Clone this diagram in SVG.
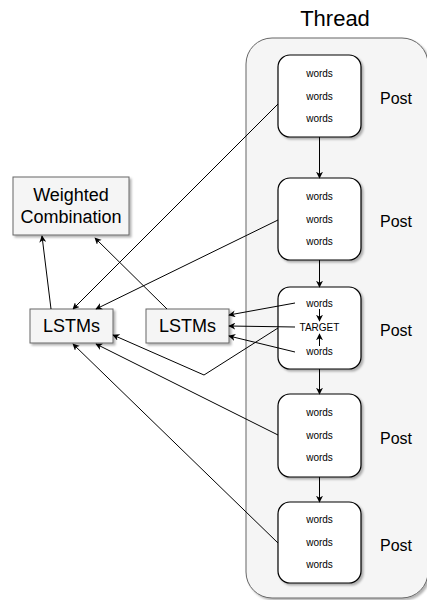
<svg xmlns="http://www.w3.org/2000/svg" width="427" height="600" viewBox="0 0 427 600">
  <style>
    text { font-family: "Liberation Sans", Arial, sans-serif; fill: #000; text-anchor: middle; }
    .title { font-size: 22px; }
    .label { font-size: 16px; }
    .word { font-size: 10px; }
    .big { font-size: 18px; }
    .post { fill: #ffffff; stroke: #000; stroke-width: 1.2; }
    .gray { fill: #f5f5f5; stroke: #666666; stroke-width: 1; }
    .edge { fill: none; stroke: #000; stroke-width: 1; }
  </style>
  <defs>
    <filter id="shadow" x="-10%" y="-10%" width="130%" height="130%">
      <feGaussianBlur in="SourceAlpha" stdDeviation="0.8"/>
      <feOffset dx="2" dy="2" result="b"/>
      <feFlood flood-color="#000" flood-opacity="0.3"/>
      <feComposite in2="b" operator="in"/>
      <feMerge><feMergeNode/><feMergeNode in="SourceGraphic"/></feMerge>
    </filter>
    <marker id="arrow" viewBox="0 0 10 10" refX="9" refY="5" markerWidth="7" markerHeight="7" markerUnits="userSpaceOnUse" orient="auto">
      <path d="M0,0 L10,5 L0,10 L3,5 z" fill="#000"/>
    </marker>
  </defs>

  <!-- thread container -->
  <g id="thread">
    <rect x="246" y="38" width="182" height="560" rx="26" class="gray" filter="url(#shadow)"/>
    <text x="335" y="26" class="title">Thread</text>
  </g>

  <!-- posts -->
  <g id="post1">
    <rect x="278" y="55" width="83" height="82" rx="12" class="post" filter="url(#shadow)"/>
    <text x="319.5" y="77" class="word">words</text>
    <text x="319.5" y="100" class="word">words</text>
    <text x="319.5" y="122" class="word">words</text>
    <text x="396" y="104" class="label">Post</text>
  </g>
  <g id="post2">
    <rect x="278" y="178" width="83" height="82" rx="12" class="post" filter="url(#shadow)"/>
    <text x="319.5" y="200" class="word">words</text>
    <text x="319.5" y="223" class="word">words</text>
    <text x="319.5" y="245" class="word">words</text>
    <text x="396" y="227" class="label">Post</text>
  </g>
  <g id="post3">
    <rect x="278" y="287" width="83" height="82" rx="12" class="post" filter="url(#shadow)"/>
    <text x="319.5" y="307" class="word">words</text>
    <text x="319.5" y="331" class="word">TARGET</text>
    <text x="319.5" y="355" class="word">words</text>
    <text x="396" y="336" class="label">Post</text>
  </g>
  <g id="post4">
    <rect x="278" y="394" width="83" height="83" rx="12" class="post" filter="url(#shadow)"/>
    <text x="319.5" y="416" class="word">words</text>
    <text x="319.5" y="439" class="word">words</text>
    <text x="319.5" y="461" class="word">words</text>
    <text x="396" y="444" class="label">Post</text>
  </g>
  <g id="post5">
    <rect x="278" y="502" width="83" height="81" rx="12" class="post" filter="url(#shadow)"/>
    <text x="319.5" y="523" class="word">words</text>
    <text x="319.5" y="546" class="word">words</text>
    <text x="319.5" y="568" class="word">words</text>
    <text x="396" y="551" class="label">Post</text>
  </g>

  <!-- model blocks -->
  <g id="weighted">
    <rect x="13" y="177" width="116" height="58" class="gray" filter="url(#shadow)"/>
    <text x="71" y="201" class="big">Weighted</text>
    <text x="71" y="223" class="big">Combination</text>
  </g>
  <g id="lstm1">
    <rect x="30" y="309" width="83" height="34" class="gray" filter="url(#shadow)"/>
    <text x="71.5" y="332" class="big">LSTMs</text>
  </g>
  <g id="lstm2">
    <rect x="146" y="309" width="83" height="34" class="gray" filter="url(#shadow)"/>
    <text x="187.5" y="332" class="big">LSTMs</text>
  </g>

  <!-- connectors -->
  <g id="edges">
    <!-- post chain -->
    <line x1="319.5" y1="137" x2="319.5" y2="178" class="edge" marker-end="url(#arrow)"/>
    <line x1="319.5" y1="260" x2="319.5" y2="287" class="edge" marker-end="url(#arrow)"/>
    <line x1="319.5" y1="369" x2="319.5" y2="394" class="edge" marker-end="url(#arrow)"/>
    <line x1="319.5" y1="477" x2="319.5" y2="502" class="edge" marker-end="url(#arrow)"/>
    <!-- context words into target -->
    <line x1="319.5" y1="309" x2="319.5" y2="321" class="edge" marker-end="url(#arrow)"/>
    <line x1="319.5" y1="346" x2="319.5" y2="334" class="edge" marker-end="url(#arrow)"/>
    <!-- LSTMs into the weighted combination -->
    <line x1="51" y1="309" x2="42" y2="236" class="edge" marker-end="url(#arrow)"/>
    <line x1="167" y1="309" x2="95" y2="238" class="edge" marker-end="url(#arrow)"/>
    <!-- posts into the thread LSTMs -->
    <line x1="278" y1="104" x2="73" y2="309" class="edge" marker-end="url(#arrow)"/>
    <line x1="278" y1="220" x2="96" y2="309" class="edge" marker-end="url(#arrow)"/>
    <polyline points="278,328 204,375 113,335" class="edge" marker-end="url(#arrow)"/>
    <line x1="278" y1="435" x2="96" y2="344" class="edge" marker-end="url(#arrow)"/>
    <line x1="278" y1="543" x2="73" y2="344" class="edge" marker-end="url(#arrow)"/>
    <!-- target post into the local LSTMs -->
    <line x1="295" y1="303" x2="229" y2="315" class="edge" marker-end="url(#arrow)"/>
    <line x1="295" y1="327" x2="229" y2="326" class="edge" marker-end="url(#arrow)"/>
    <line x1="295" y1="352" x2="229" y2="336" class="edge" marker-end="url(#arrow)"/>
  </g>
</svg>
